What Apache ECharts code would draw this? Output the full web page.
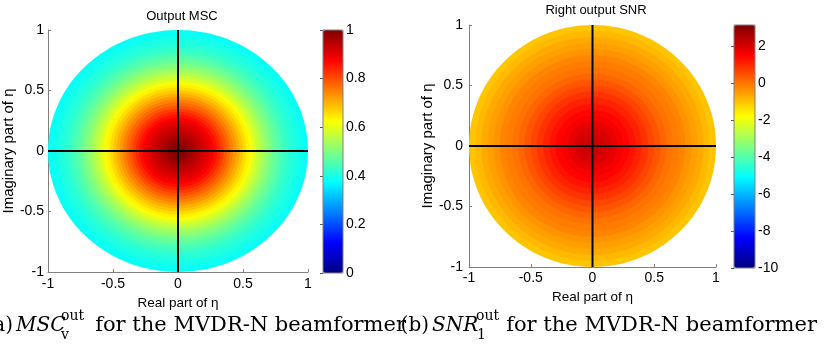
<!DOCTYPE html>
<html><head><meta charset="utf-8">
<script src="https://cdn.jsdelivr.net/npm/echarts@6/dist/echarts.min.js"></script>
<style>html,body{margin:0;padding:0;background:#fff}#c{width:824px;height:348px}</style>
</head><body><div id="c"></div>
<script>
// outer radius of each ring (fraction of |eta| = 1), left panel
const mscRadius = [0.025,0.05,0.075,0.10,0.125,0.15,0.175,0.20,0.225,0.25,0.275,0.30,0.325,0.35,0.375,0.40,0.425,0.45,0.475,0.50,
                   0.525,0.55,0.575,0.60,0.625,0.65,0.675,0.70,0.725,0.75,0.775,0.80,0.825,0.85,0.875,0.90,0.925,0.95,0.975,1.00];
// output MSC read per ring (left panel)
const mscValues = [0.998,0.993,0.985,0.972,0.96,0.946,0.934,0.921,0.909,0.896,0.88,0.86,0.839,0.816,0.794,0.771,0.749,0.726,0.704,0.681,
                   0.659,0.638,0.616,0.594,0.572,0.551,0.531,0.512,0.495,0.478,0.463,0.45,0.437,0.426,0.415,0.407,0.40,0.393,0.387,0.383];
// outer radius of each ring, right panel
const snrRadius = [0.05,0.10,0.15,0.20,0.25,0.30,0.35,0.40,0.45,0.50,0.55,0.60,0.65,0.70,0.75,0.80,0.85,0.90,0.95,1.00];
// right output SNR (dB) read per ring (right panel)
const snrValues = [2.2,2.1,1.95,1.8,1.6,1.45,1.25,1.05,0.85,0.6,0.4,0.2,0.0,-0.1,-0.2,-0.4,-0.55,-0.7,-0.9,-1.05];
const mscRange = [0, 1];
const snrRange = [-10, 3.13];
const mscBarTicks = [0,0.2,0.4,0.6,0.8,1];
const snrBarTicks = [-10,-8,-6,-4,-2,0,2];
const crossH = [[-1,0],[1,0]];
const crossV = [[0,-1],[0,1]];

const jet = ['#000080','#0000ff','#0080ff','#00ffff','#80ff80','#ffff00','#ff8000','#ff0000','#800000'];
const SANS = '"Liberation Sans", Arial, sans-serif';
const SERIF = '"DejaVu Serif", serif';
const axisGray = '#808080';

function ringItem(params, api) {
  const r = api.value(0);
  const c = api.coord([0, 0]);
  const s = api.size([r, r]);
  return { type: 'ellipse', shape: { cx: c[0], cy: c[1], rx: s[0], ry: s[1] },
           style: { fill: api.visual('color') } };
}
function rings(radius, vals) { return radius.map((r, i) => [r, vals[i]]).reverse(); }

function mainX(grid, nameGap, margin) {
  return { gridIndex: grid, type: 'value', min: -1, max: 1, interval: 0.5,
    axisLine: { show: true, onZero: false, lineStyle: { color: axisGray, width: 1 } },
    axisTick: { show: true, inside: true, length: 3, lineStyle: { color: axisGray } },
    splitLine: { show: false },
    axisLabel: { color: '#000', fontSize: 14, fontFamily: SANS, margin: margin },
    name: 'Real part of η', nameLocation: 'middle', nameGap: nameGap,
    nameTextStyle: { color: '#000', fontSize: 13.5, fontFamily: SANS } };
}
function mainY(grid, nameGap, margin) {
  return { gridIndex: grid, type: 'value', min: -1, max: 1, interval: 0.5,
    axisLine: { show: true, onZero: false, lineStyle: { color: axisGray, width: 1 } },
    axisTick: { show: true, inside: true, length: 3, lineStyle: { color: axisGray } },
    splitLine: { show: false },
    axisLabel: { color: '#000', fontSize: 14, fontFamily: SANS, margin: margin },
    name: 'Imaginary part of η', nameLocation: 'middle', nameGap: nameGap,
    nameTextStyle: { color: '#000', fontSize: 15, fontFamily: SANS } };
}
function barX(grid) { return { gridIndex: grid, type: 'value', show: false, min: 0, max: 1 }; }
function barY(grid, range, ticks, interval) {
  return { gridIndex: grid, type: 'value', position: 'right', min: range[0], max: range[1], interval: interval,
    axisLine: { show: false },
    axisTick: { show: true, inside: true, length: 3, lineStyle: { color: '#555' }, customValues: ticks },
    splitLine: { show: false },
    axisLabel: { color: '#000', fontSize: 14, fontFamily: SANS, margin: 3, customValues: ticks } };
}
function cross(data, xi) {
  return { type: 'line', xAxisIndex: xi, yAxisIndex: xi, data: data, symbol: 'none', silent: true, z: 5,
    lineStyle: { color: '#000', width: 2 }, animation: false };
}
function capText(x, y, text, font, align) {
  return { type: 'text', x: x, y: y, silent: true,
    style: { text: text, font: font, fill: '#000', align: align || 'left', verticalAlign: 'middle' } };
}

const chart = echarts.init(document.getElementById('c'), null, { renderer: 'canvas' });
chart.setOption({
  animation: false,
  backgroundColor: '#fff',
  title: [
    { text: 'Output MSC', left: 177, top: 5, textAlign: 'center',
      textStyle: { fontSize: 13, fontWeight: 'normal', color: '#000', fontFamily: SANS } },
    { text: 'Right output SNR', left: 591, top: -1, textAlign: 'center',
      textStyle: { fontSize: 13, fontWeight: 'normal', color: '#000', fontFamily: SANS } }
  ],
  grid: [
    { left: 48, top: 30, width: 260, height: 242 },
    { left: 323, top: 30, width: 20, height: 243, show: true, z: 10, borderColor: axisGray, borderWidth: 1, backgroundColor: 'transparent' },
    { left: 469, top: 25, width: 247, height: 242 },
    { left: 734, top: 25, width: 21, height: 243, show: true, z: 10, borderColor: axisGray, borderWidth: 1, backgroundColor: 'transparent' }
  ],
  xAxis: [ mainX(0, 19, 5), barX(1), mainX(2, 23, 4), barX(3) ],
  yAxis: [ mainY(0, 30, 4), barY(1, mscRange, mscBarTicks, 0.2), mainY(2, 31, 6), barY(3, snrRange, snrBarTicks, 2) ],
  visualMap: [
    { type: 'continuous', seriesIndex: 0, dimension: 1, min: mscRange[0], max: mscRange[1],
      inRange: { color: jet }, left: 323, top: 30, itemWidth: 20, itemHeight: 243, padding: 0,
      calculable: false, text: null, showLabel: false, hoverLink: false },
    { type: 'continuous', seriesIndex: 3, dimension: 1, min: snrRange[0], max: snrRange[1],
      inRange: { color: jet }, left: 734, top: 25, itemWidth: 21, itemHeight: 243, padding: 0,
      calculable: false, text: null, showLabel: false, hoverLink: false }
  ],
  series: [
    { type: 'custom', xAxisIndex: 0, yAxisIndex: 0, renderItem: ringItem, data: rings(mscRadius, mscValues), silent: true, z: 1,
      encode: { x: 0, y: 0 } },
    cross(crossH, 0), cross(crossV, 0),
    { type: 'custom', xAxisIndex: 2, yAxisIndex: 2, renderItem: ringItem, data: rings(snrRadius, snrValues), silent: true, z: 1,
      encode: { x: 0, y: 0 } },
    cross(crossH, 2), cross(crossV, 2)
  ],
  graphic: [
    capText(13, 326, '(a)', '20px ' + SERIF, 'right'),
    capText(16, 326, 'MSC', 'italic 20px ' + SERIF),
    capText(61, 316, 'out', '14px ' + SERIF),
    capText(61, 335, 'v', '14px ' + SERIF),
    capText(406, 326, 'for the MVDR-N beamformer', '21px ' + SERIF, 'right'),
    capText(429, 326, '(b)', '20px ' + SERIF, 'right'),
    capText(432, 326, 'SNR', 'italic 20px ' + SERIF),
    capText(476, 316, 'out', '14px ' + SERIF),
    capText(477, 335, '1', '14px ' + SERIF),
    capText(817, 326, 'for the MVDR-N beamformer', '21px ' + SERIF, 'right')
  ]
});
</script></body></html>
